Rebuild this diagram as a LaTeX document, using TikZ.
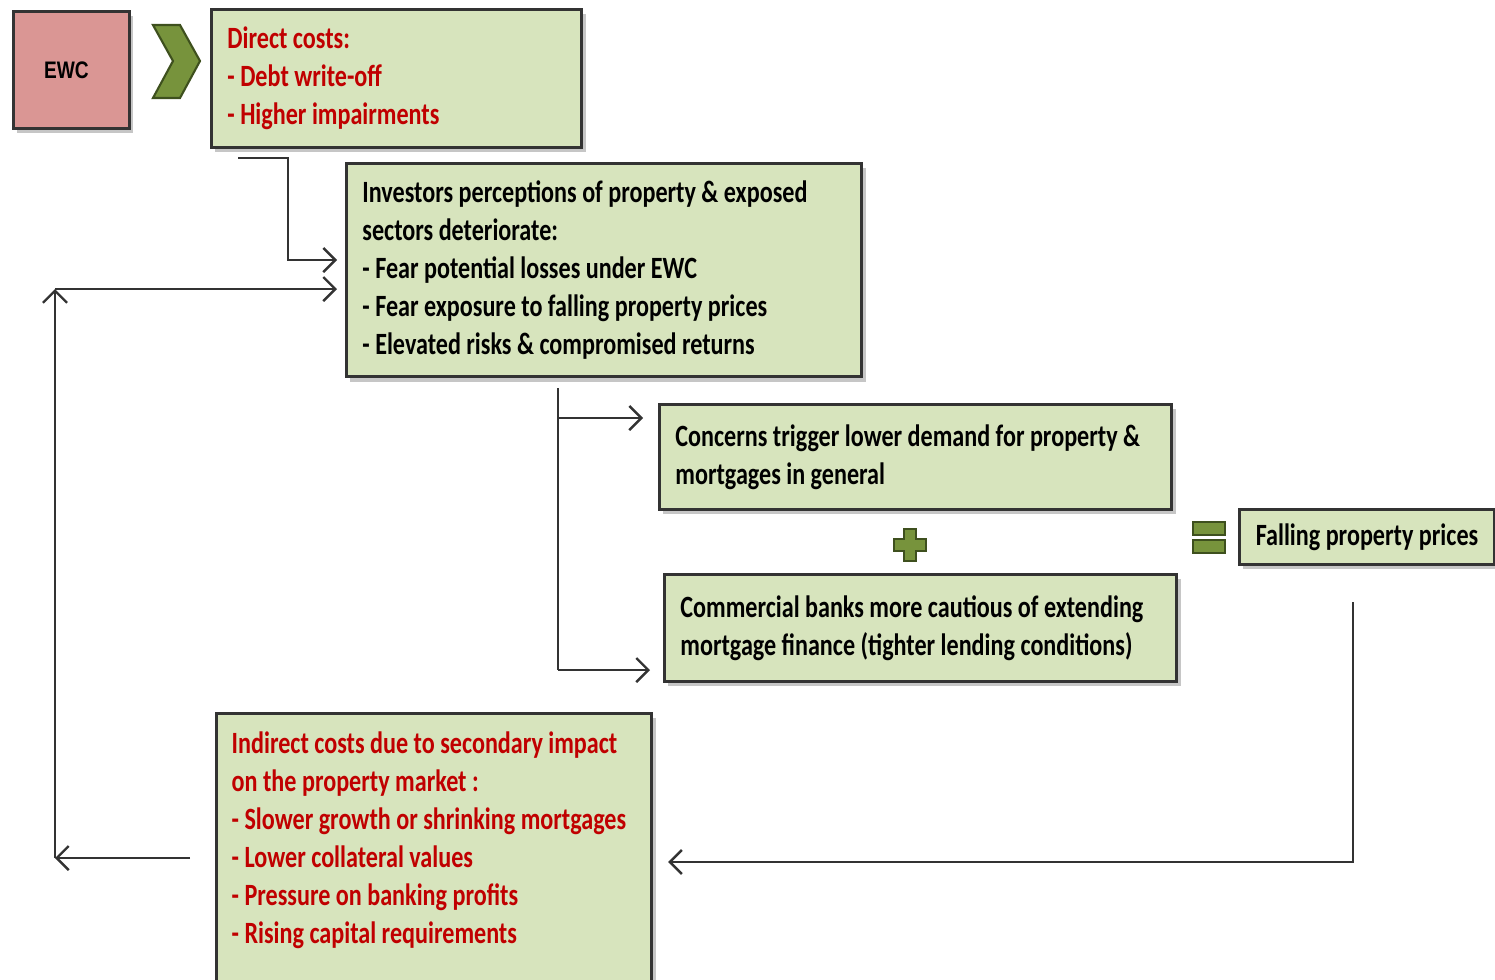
\documentclass[tikz,border=0pt]{standalone}
\usepackage{fontspec}
\setmainfont{Carlito}[FakeStretch=0.78]
\newfontfamily\ewcfont{Liberation Sans}[FakeStretch=0.8]
\usetikzlibrary{arrows.meta,shadows}

\definecolor{boxgreen}{RGB}{215,228,189}
\definecolor{ewcpink}{RGB}{218,150,148}
\definecolor{signgreen}{RGB}{119,147,60}
\definecolor{signedge}{RGB}{62,80,30}
\definecolor{costred}{RGB}{192,0,0}

\tikzset{
  box/.style={draw=black!80, line width=0.8pt, fill=boxgreen, anchor=north west,
    inner xsep=0.16cm, align=flush left, font=\fontsize{8.8}{10.8}\selectfont\bfseries,
    drop shadow={shadow xshift=0.04cm, shadow yshift=-0.05cm, opacity=0.45}},
  arr/.style={draw=black!80, line width=0.7pt, -{Straight Barb[length=1.2mm,width=2.4mm]}},
  link/.style={draw=black!80, line width=0.7pt},
  sign/.style={fill=signgreen, draw=signedge, line width=0.6pt}
}

\begin{document}
\begin{tikzpicture}[x=0.01cm, y=-0.01cm]
\useasboundingbox (0,0) rectangle (1495,979);

\node[box, fill=ewcpink, align=center, minimum width=1.16cm, minimum height=1.17cm,
  font=\ewcfont\fontsize{6.8}{8}\selectfont\bfseries] (ewc) at (12,10) {EWC\hspace{0.1cm}};

\fill[sign] (153,25) -- (180,25) -- (200,61) -- (180,98) -- (153,98) -- (173,61) -- cycle;

\node[box, text=costred, minimum width=3.70cm, minimum height=1.38cm, text width=3.38cm] (direct) at (210,8)
  {Direct costs:\\- Debt write-off\\- Higher impairments};

\node[box, minimum width=5.15cm, minimum height=2.13cm, text width=4.83cm] (invest) at (345,162)
  {Investors perceptions of property \& exposed\\sectors deteriorate:\\- Fear potential losses under EWC\\- Fear exposure to falling property prices\\- Elevated risks \& compromised returns};

\node[box, minimum width=5.12cm, minimum height=1.05cm, text width=4.80cm] (concern) at (658,403)
  {Concerns trigger lower demand for property \&\\mortgages in general};

\node[box, minimum width=5.12cm, minimum height=1.07cm, text width=4.80cm] (banks) at (663,573)
  {Commercial banks more cautious of extending\\mortgage finance (tighter lending conditions)};

\node[box, minimum width=2.55cm, minimum height=0.55cm] (falling) at (1238,508)
  {Falling property prices};

\node[box, minimum width=4.35cm, minimum height=3.00cm] (indirect) at (215,712) {};
\node[anchor=north west, inner sep=0pt, align=flush left, text=costred,
  font=\fontsize{8.8}{10.8}\selectfont\bfseries] (indirecttext) at (231,731)
  {Indirect costs due to secondary impact\\on the property market :\\- Slower growth or shrinking mortgages\\- Lower collateral values\\- Pressure on banking profits\\- Rising capital requirements};

\fill[sign] (904,529) -- (916,529) -- (916,539) -- (926,539) -- (926,551) -- (916,551)
  -- (916,561) -- (904,561) -- (904,551) -- (894,551) -- (894,539) -- (904,539) -- cycle;
\foreach \y in {522,540}{
  \fill[sign] (1193,\y) rectangle (1225,\y+13);
}

\coordinate (d1) at (238,158);
\coordinate (d2) at (288,260);
\draw[arr, shorten >=0.08cm] (d1) -| (d2) -- (d2 -| invest.west);

\coordinate (l1) at (190,858);
\coordinate (l2) at (55,858);
\coordinate (l3) at (55,289);
\draw[arr] (l1) -- (l2);
\draw[arr] (l2) -- (l3);
\draw[arr, shorten >=0.08cm] (l3) -- (l3 -| invest.west);

\coordinate (i1) at (558,388);
\coordinate (i2) at (558,418);
\coordinate (i3) at (558,670);
\draw[link] (i1) -- (i3);
\draw[arr, shorten >=0.15cm] (i2) -- (i2 -| concern.west);
\draw[arr, shorten >=0.13cm] (i3) -- (i3 -| banks.west);

\coordinate (f1) at (1353,602);
\coordinate (f2) at (1353,862);
\draw[arr, shorten >=0.15cm] (f1) -- (f2) -- (f2 -| indirect.east);

\end{tikzpicture}
\end{document}
